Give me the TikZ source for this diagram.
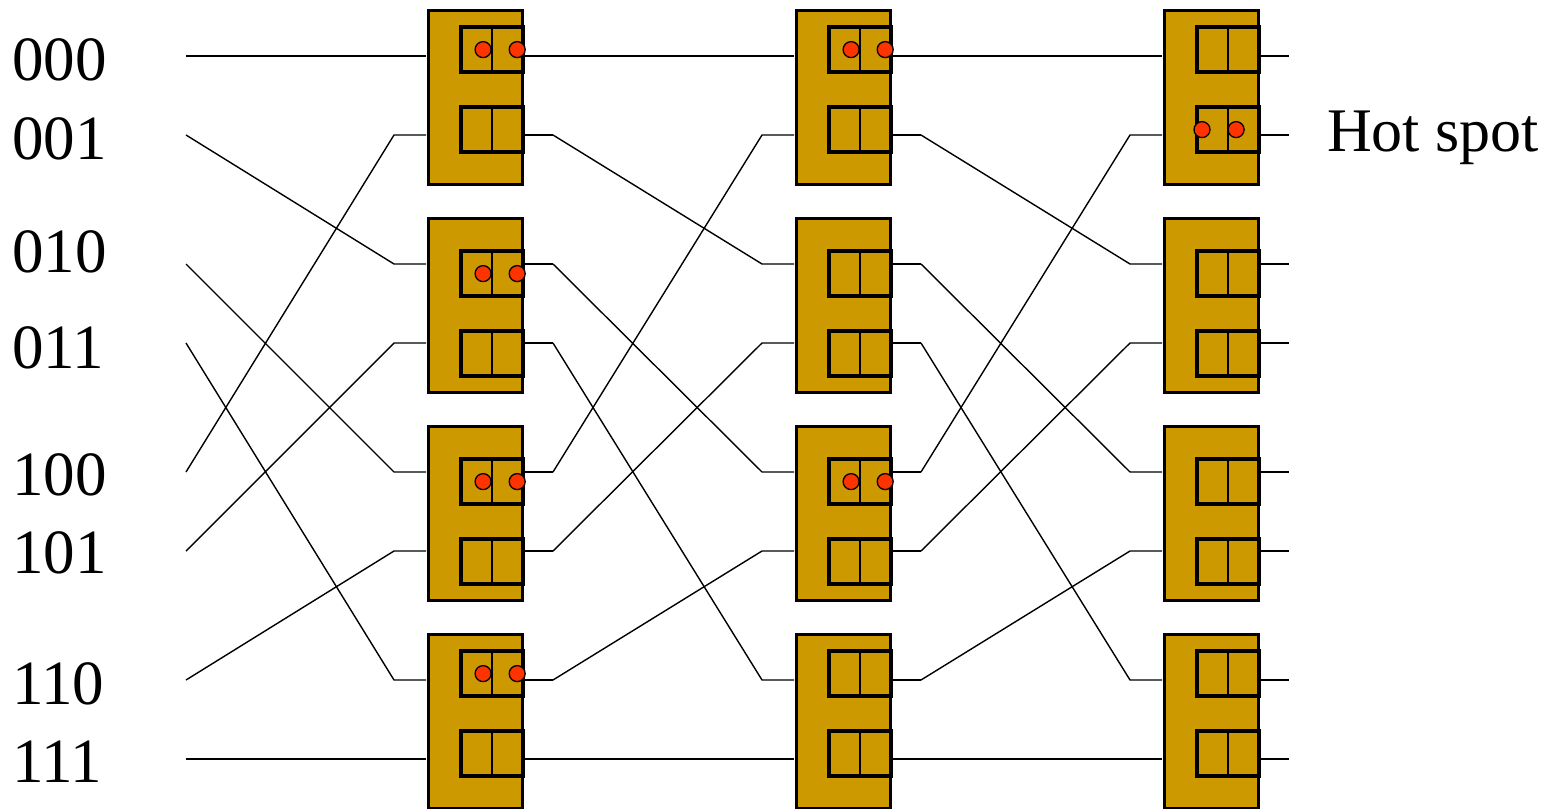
\documentclass[tikz,border=0pt]{standalone}
\usepackage{fontspec}
\setmainfont{Liberation Serif}
\usetikzlibrary{calc}
\definecolor{switchgold}{HTML}{CC9900}
\definecolor{hotred}{HTML}{FF3300}
\begin{document}
\begin{tikzpicture}[x=1pt,y=-1pt,
  switchbox/.style={rectangle, draw=black, line width=2.6pt, fill=switchgold,
    inner sep=0pt, minimum width=94pt, minimum height=174pt, anchor=north west},
  bufferbox/.style={rectangle, draw=black, line width=4.2pt, fill=switchgold,
    inner sep=0pt, minimum width=62pt, minimum height=45pt, anchor=north west},
  bufshadow/.style={fill=black!35},
  divider/.style={line width=2pt, black},
  packet/.style={circle, draw=black, line width=1.3pt, fill=hotred,
    inner sep=0pt, minimum size=16pt},
  wire/.style={line width=1.4pt, black, line join=round},
  portlabel/.style={anchor=base west, inner sep=0pt,
    font=\fontsize{63}{63}\selectfont},
]
\useasboundingbox (0,0) rectangle (1562,808);

% three stages of 2x2 switches, four per stage, each with two buffers
\foreach \c in {1,2,3} {
  \foreach \r in {0,...,3} {
    \pgfmathsetmacro\bx{426+368*(\c-1)}
    \pgfmathsetmacro\by{8+208*\r}
    \pgfmathsetmacro\boff{(\r==1 || \r==2) ? 31 : 15}
    \pgfmathtruncatemacro\kt{2*\r}
    \pgfmathtruncatemacro\kb{2*\r+1}
    \node[switchbox] (sw-\c-\r) at (\bx+1,\by+1) {};
    % buffers with a thin offset shadow
    \fill[bufshadow] (\bx+33,\by+\boff+2) rectangle +(66,49);
    \fill[bufshadow] (\bx+33,\by+\boff+82) rectangle +(66,49);
    \node[bufferbox] (buf-\c-\r-t) at (\bx+33,\by+\boff+2) {};
    \node[bufferbox] (buf-\c-\r-b) at (\bx+33,\by+\boff+82) {};
    \draw[divider] (buf-\c-\r-t.north) -- (buf-\c-\r-t.south);
    \draw[divider] (buf-\c-\r-b.north) -- (buf-\c-\r-b.south);
    % port pins and the bends of the links
    \coordinate (pinL-\c-\kt) at (\bx,\by+48);
    \coordinate (pinL-\c-\kb) at (\bx,\by+127);
    \coordinate (bendL-\c-\kt) at (\bx-32,\by+48);
    \coordinate (bendL-\c-\kb) at (\bx-32,\by+127);
    \coordinate (pinR-\c-\kt) at (\bx+96,\by+48);
    \coordinate (pinR-\c-\kb) at (\bx+96,\by+127);
    \coordinate (bendR-\c-\kt) at (\bx+127,\by+48);
    \coordinate (bendR-\c-\kb) at (\bx+127,\by+127);
  }
}

% source addresses
\foreach \k/\txt/\bl/\ly in {0/000/80/56, 1/001/159/135, 2/010/272/264,
    3/011/368/343, 4/100/495/472, 5/101/573/551, 6/110/704/680, 7/111/782/759} {
  \node[portlabel] (lab-\k) at (12,\bl) {\txt};
  \coordinate (src-\k) at (186,\ly);
}

% perfect-shuffle links in front of every stage, then the output stubs
\foreach \s in {1,2,3} {
  \foreach \k in {0,...,7} {
    \pgfmathtruncatemacro\d{\k==7 ? 7 : mod(2*\k,7)}
    \pgfmathtruncatemacro\p{\s-1}
    \ifnum\s=1 \def\from{src-\k}\else \def\from{bendR-\p-\k}\fi
    \draw[wire] (\from) -- (bendL-\s-\d) -- (pinL-\s-\d);
    \draw[wire] (pinR-\s-\k) -- (bendR-\s-\k);
  }
}

% queued packets
\foreach \c/\r/\b in {1/0/t, 1/1/t, 1/2/t, 1/3/t, 2/0/t, 2/2/t} {
  \node[packet] (pkt-\c-\r-a) at ($(buf-\c-\r-\b.center)+(-9,0)$) {};
  \node[packet] (pkt-\c-\r-b) at ($(buf-\c-\r-\b.east)+(-8,0)$) {};
}
\node[packet] (pkt-3-0-a) at ($(buf-3-0-b.west)+(7,0)$) {};
\node[packet] (pkt-3-0-b) at ($(buf-3-0-b.center)+(8,0)$) {};

\node[anchor=base west, inner sep=0pt, font=\fontsize{62}{62}\selectfont]
  (hot) at (1327,151) {Hot spot};
\end{tikzpicture}
\end{document}
